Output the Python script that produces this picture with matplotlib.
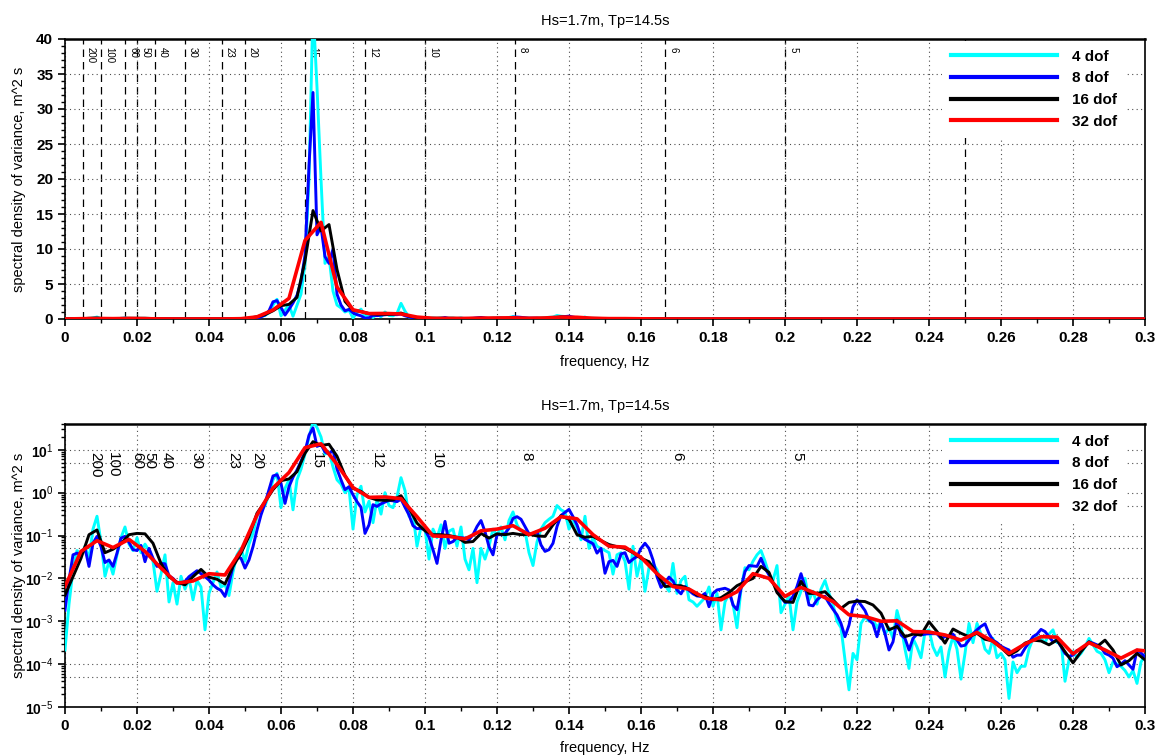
"""Spectral density estimates with 4, 8, 16 and 32 degrees of freedom."""

import matplotlib.pyplot as plt
import numpy as np
from matplotlib.ticker import FixedLocator, LogLocator, MultipleLocator, NullFormatter
from matplotlib.transforms import blended_transform_factory, offset_copy

plt.rcParams['font.family'] = ['Liberation Sans', 'DejaVu Sans']
plt.rcParams['mathtext.fontset'] = 'custom'
plt.rcParams['mathtext.rm'] = 'Liberation Sans'
plt.rcParams['mathtext.bf'] = 'Liberation Sans:bold'

TITLE = "Hs=1.7m, Tp=14.5s"
SERIES_LABELS = ["4 dof", "8 dof", "16 dof", "32 dof"]
SERIES_COLORS = ["#00ffff", "#0000ff", "#000000", "#ff0000"]

# Wave periods (s) marked on the frequency axis.
PERIODS = [200, 100, 60, 50, 40, 30, 23, 20, 15, 12, 10, 8, 6, 5, 4]

# Frequency resolution of each estimate, Hz.
DF_4DOF = 1 / 900
DF_8DOF = 1 / 900
DF_16DOF = 1 / 450
DF_32DOF = 1 / 225

# Spectral density, log10(m^2 s).
log_s_4dof = [
    -3.67, -2.6, -1.8, -1.35, -1.45, -1.25, -1.55, -0.85, -0.55, -1.15,
    -1.95, -1.6, -1.9, -1.45, -1.05, -0.8, -1.2, -1.35, -1.05, -1.4,
    -1.2, -1.35, -1.6, -2.3, -1.9, -1.45, -2.55, -2.1, -2.6, -1.95,
    -2.25, -2.0, -2.5, -2.05, -2.2, -3.2, -2.35, -2.1, -1.85, -2.2,
    -2.15, -2.4, -1.85, -1.45, -1.3, -1.6, -1.2, -0.95, -0.55, -0.4,
    -0.3, -0.05, 0.3, 0.45, -0.35, 0.1, 0.3, -0.4, 0.3, 0.55,
    0.9, 1.3, 1.65, 1.52, 1.3, 0.9, 0.95, 0.6, 0.3, 0.2,
    0.0, 0.1, -0.85, -0.05, 0.15, -0.45, -0.2, -0.7, -0.15, -0.5,
    0.0, -0.3, -0.35, -0.1, 0.35, 0.05, -0.55, -0.5, -1.25, -0.8,
    -0.85, -1.55, -0.85, -1.05, -0.75, -1.3, -0.9, -0.85, -1.25, -0.8,
    -1.55, -1.8, -1.3, -2.1, -1.3, -1.55, -1.25, -0.85, -1.0, -0.8,
    -1.1, -0.65, -0.45, -0.75, -0.9, -0.9, -1.4, -1.7, -1.15, -0.85,
    -0.7, -0.62, -0.55, -0.3, -0.4, -0.45, -0.85, -0.65, -0.82, -1.1,
    -0.55, -1.3, -1.05, -1.25, -1.3, -1.35, -1.4, -1.9, -1.45, -1.4,
    -1.6, -2.25, -1.25, -1.95, -1.55, -2.3, -1.75, -1.65, -1.8, -2.05,
    -2.15, -2.3, -1.65, -2.35, -2.05, -1.95, -2.5, -2.55, -2.65, -2.55,
    -2.45, -2.2, -2.65, -2.35, -3.2, -2.55, -2.35, -2.6, -3.15, -2.25,
    -1.75, -1.8, -1.6, -1.45, -1.35, -1.6, -1.9, -2.05, -1.7, -2.8,
    -2.6, -2.4, -3.2, -2.55, -2.3, -2.0, -2.5, -2.3, -2.6, -2.25,
    -2.05, -2.35, -2.6, -3.0, -3.15, -3.9, -4.6, -3.75, -3.9, -3.05,
    -2.9, -3.0, -2.95, -3.15, -3.0, -3.3, -3.15, -3.4, -2.75, -3.1,
    -3.65, -4.1, -3.4, -3.6, -3.85, -3.25, -3.2, -3.6, -3.8, -3.6,
    -4.3, -3.7, -3.35, -3.65, -4.35, -3.75, -3.05, -3.5, -3.05, -3.3,
    -3.65, -3.75, -3.4, -3.85, -3.75, -3.9, -4.8, -3.95, -4.2, -4.05,
    -4.05, -3.65, -3.4, -3.35, -3.4, -3.5, -3.3, -3.2, -3.5, -3.45,
    -4.4, -3.9, -3.7, -3.85, -3.75, -3.6, -3.4, -3.55, -3.7, -3.75,
    -3.9, -4.2, -3.95, -4.0, -4.05, -4.15, -4.3, -4.15, -4.45, -3.95,
    -3.8,
]

log_s_8dof = [
    -2.74, -2.04, -1.45, -1.41, -1.45, -1.30, -1.72, -1.18, -1.02, -1.26,
    -1.63, -1.57, -1.72, -1.41, -1.06, -1.02, -1.16, -1.33, -1.35, -1.23,
    -1.61, -1.30, -1.53, -1.72, -1.65, -1.66, -1.94, -2.00, -2.10, -2.11,
    -2.07, -1.96, -1.89, -1.82, -1.89, -1.96, -2.04, -2.15, -2.23, -2.28,
    -2.42, -2.11, -1.72, -1.51, -1.53, -1.76, -1.57, -1.26, -0.87, -0.52,
    -0.25, 0.07, 0.39, 0.42, 0.22, -0.25, 0.14, 0.36, 0.53, 0.73,
    0.96, 1.34, 1.51, 1.08, 1.12, 0.95, 0.90, 1.00, 0.55, 0.30,
    0.07, 0.14, -0.05, -0.21, -0.34, -0.95, -0.75, -0.28, -0.32, -0.26,
    -0.22, -0.18, -0.19, -0.21, -0.15, -0.34, -0.52, -0.77, -0.84, -0.83,
    -0.87, -1.04, -1.33, -1.65, -1.10, -0.67, -1.18, -1.14, -1.04, -1.05,
    -1.06, -1.10, -0.98, -0.79, -0.65, -0.91, -1.26, -1.45, -0.98, -0.98,
    -0.95, -0.83, -0.60, -0.56, -0.62, -0.79, -0.96, -0.95, -0.91, -1.22,
    -1.37, -1.33, -1.18, -0.79, -0.53, -0.46, -0.39, -0.56, -0.75, -1.02,
    -1.09, -1.14, -1.19, -1.41, -1.30, -1.88, -1.61, -1.58, -1.72, -1.43,
    -1.40, -1.63, -1.55, -1.49, -1.30, -1.18, -1.30, -1.57, -1.96, -2.21,
    -2.11, -1.97, -2.06, -2.27, -2.36, -2.19, -2.28, -2.36, -2.41, -2.42,
    -2.35, -2.66, -2.35, -2.27, -2.25, -2.23, -2.27, -2.62, -2.73, -2.23,
    -1.84, -1.70, -1.71, -1.72, -1.53, -1.76, -1.92, -2.11, -2.23, -2.44,
    -2.56, -2.55, -2.42, -2.19, -1.89, -2.19, -2.62, -2.64, -2.50, -2.42,
    -2.42, -2.58, -2.72, -2.85, -3.05, -3.36, -3.09, -2.66, -2.50, -2.62,
    -2.75, -2.97, -3.06, -3.36, -3.01, -3.29, -3.67, -3.48, -2.97, -3.32,
    -3.40, -3.67, -3.40, -3.30, -3.32, -3.30, -3.29, -3.29, -3.29, -3.40,
    -3.36, -3.35, -3.30, -3.44, -3.58, -3.56, -3.44, -3.29, -3.20, -3.12,
    -3.06, -3.29, -3.44, -3.50, -3.58, -3.63, -3.67, -3.84, -3.79, -3.79,
    -3.63, -3.50, -3.36, -3.30, -3.19, -3.24, -3.36, -3.48, -3.44, -3.59,
    -3.75, -3.82, -3.79, -3.68, -3.67, -3.59, -3.48, -3.51, -3.55, -3.61,
    -3.75, -3.79, -3.86, -4.06, -4.00, -3.92, -4.02, -4.12, -3.67, -3.74,
    -3.83,
]

log_s_16dof = [
    -2.39, -1.96, -1.53, -0.98, -0.87, -1.40, -1.32, -1.19, -0.98, -0.95,
    -0.96, -1.18, -1.65, -1.96, -2.09, -2.15, -1.96, -1.79, -1.97, -2.02,
    -2.13, -1.72, -1.41, -1.02, -0.48, -0.21, 0.07, 0.28, 0.32, 0.49,
    0.92, 1.19, 1.10, 1.13, 0.85, 0.40, 0.10, 0.03, -0.11, -0.17,
    -0.18, -0.17, -0.07, -0.36, -0.71, -0.89, -0.98, -0.98, -1.00, -1.04,
    -1.16, -1.14, -0.95, -1.06, -0.96, -0.98, -0.95, -0.98, -0.97, -1.01,
    -1.02, -0.75, -0.54, -0.62, -0.98, -1.04, -1.02, -1.12, -1.21, -1.26,
    -1.30, -1.40, -1.53, -1.61, -1.89, -2.19, -2.17, -2.17, -2.25, -2.39,
    -2.42, -2.50, -2.45, -2.33, -2.17, -2.08, -2.00, -1.72, -1.86, -2.33,
    -2.54, -2.56, -2.07, -2.35, -2.35, -2.31, -2.50, -2.70, -2.56, -2.53,
    -2.54, -2.62, -2.81, -3.20, -3.12, -3.36, -3.30, -3.32, -3.01, -3.24,
    -3.51, -3.18, -3.28, -3.36, -3.28, -3.42, -3.46, -3.61, -3.79, -3.69,
    -3.51, -3.44, -3.46, -3.55, -3.44, -3.71, -3.97, -3.71, -3.48, -3.59,
    -3.44, -3.67, -4.02, -3.92, -3.75, -3.90,
]

log_s_32dof = [
    -2.19, -1.37, -1.12, -1.28, -1.09, -1.37, -1.76, -2.11, -2.06, -1.89,
    -1.92, -1.35, -0.52, 0.11, 0.47, 1.05, 1.14, 0.66, 0.12, -0.11,
    -0.10, -0.14, -0.56, -1.01, -1.02, -1.08, -0.89, -0.85, -0.77, -0.98,
    -0.83, -0.56, -0.61, -0.98, -1.25, -1.27, -1.51, -1.89, -2.19, -2.25,
    -2.46, -2.50, -2.31, -1.89, -2.00, -2.42, -2.21, -2.36, -2.54, -2.85,
    -2.89, -3.00, -2.99, -3.24, -3.25, -3.32, -3.44, -3.26, -3.47, -3.75,
    -3.53, -3.36, -3.37, -3.76, -3.50, -3.67, -3.86, -3.67, -3.71,
]

series = []
for log_s, df in [(log_s_4dof, DF_4DOF), (log_s_8dof, DF_8DOF),
                  (log_s_16dof, DF_16DOF), (log_s_32dof, DF_32DOF)]:
    freq = np.arange(len(log_s)) * df
    series.append((freq, 10.0 ** np.array(log_s)))

GRID_STYLE = dict(linestyle=(0, (1, 3)), color="0.3", linewidth=0.8)
TICK_FONT = dict(fontsize=11, fontweight="bold")


def draw_panel(ax, log_scale):
    """Draws one copy of the four spectra."""
    for (freq, dens), color, label in zip(series, SERIES_COLORS, SERIES_LABELS):
        lw = 2.6 if color == "#ff0000" else 2.1
        ax.plot(freq, dens, color=color, lw=lw, label=label, zorder=3)

    ax.set_xlim(0, 0.3)
    ax.xaxis.set_minor_locator(MultipleLocator(0.01))
    ax.set_xticks(np.arange(0, 0.301, 0.02))
    ax.set_xticklabels(["0"] + [f"{v:g}" for v in np.arange(0.02, 0.301, 0.02)],
                       **TICK_FONT)
    ax.grid(True, which="major", **GRID_STYLE)

    trans = blended_transform_factory(ax.transData, ax.transAxes)
    if log_scale:
        ax.set_yscale("log")
        ax.set_ylim(1e-5, 40)
        exps = list(range(-5, 2))
        ax.yaxis.set_major_locator(FixedLocator([10.0 ** e for e in exps]))
        ax.set_yticklabels([rf"$\mathbf{{10}}^{{{e}}}$" for e in exps],
                           fontsize=10)
        ax.yaxis.set_minor_locator(LogLocator(base=10, subs=np.arange(2, 10)))
        ax.yaxis.set_minor_formatter(NullFormatter())
        for e in range(-5, 1):
            ax.axhline(5 * 10.0 ** e, zorder=0.5, **GRID_STYLE)
        for p in PERIODS:
            ax.text(1 / p, 0.90, str(p), rotation=270, ha="left", va="top",
                    fontsize=11, zorder=1,
                    transform=offset_copy(trans, fig=ax.figure, x=3.5, y=0,
                                          units="points"))
    else:
        ax.set_ylim(0, 40)
        ax.yaxis.set_minor_locator(MultipleLocator(1))
        ax.set_yticks(range(0, 41, 5))
        ax.set_yticklabels([str(v) for v in range(0, 41, 5)], **TICK_FONT)
        for p in PERIODS:
            ax.axvline(1 / p, color="k", lw=0.9, ls=(0, (6, 4)), zorder=1.5)
            ax.text(1 / p, 0.97, str(p), rotation=270, ha="left", va="top",
                    fontsize=7, zorder=1,
                    transform=offset_copy(trans, fig=ax.figure, x=2.2, y=0,
                                          units="points"))

    ax.tick_params(which="major", direction="out", length=5, width=1.2)
    ax.tick_params(which="minor", direction="out", length=3, width=1.0)
    for side in ["left", "bottom", "right"]:
        ax.spines[side].set_linewidth(1.2)
    ax.spines["top"].set_linewidth(1.8)

    ax.set_title(TITLE, fontsize=10.5, pad=10)
    ax.set_xlabel("frequency, Hz", fontsize=10.5)
    ax.set_ylabel("spectral density of variance, m^2 s", fontsize=10.5)
    ax.yaxis.set_label_coords(-0.036, 0.5)

    leg = ax.legend(loc="upper right", bbox_to_anchor=(1 - 17 / 1080, 1.0),
                    borderaxespad=0.1, frameon=True, framealpha=1,
                    edgecolor="none", facecolor="white",
                    handlelength=6.9, handletextpad=1.0, labelspacing=0.5,
                    borderpad=0.6, prop=dict(weight="bold", size=11))
    leg.set_zorder(10)
    for line in leg.get_lines():
        line.set_linewidth(3)


fig = plt.figure(figsize=(11.63, 7.56), dpi=100)
ax_lin = fig.add_axes([65 / 1163, 1 - 319 / 756, 1080 / 1163, 280 / 756])
ax_log = fig.add_axes([65 / 1163, 1 - 707 / 756, 1080 / 1163, 283 / 756])

draw_panel(ax_lin, log_scale=False)
draw_panel(ax_log, log_scale=True)
ax_lin.xaxis.set_label_coords(0.5, -0.13)
ax_log.xaxis.set_label_coords(0.5, -0.12)

fig.savefig("out.png", dpi=100)
